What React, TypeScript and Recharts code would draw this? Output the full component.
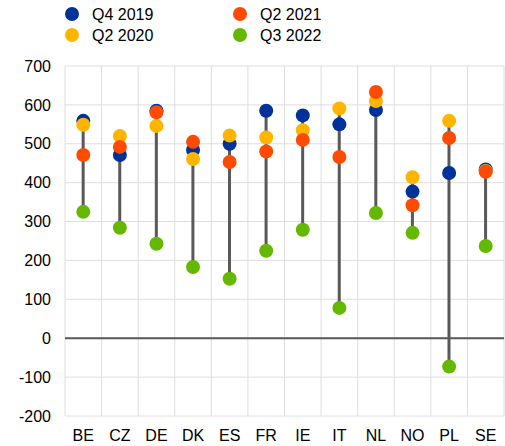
import React from 'react'
import {
  ComposedChart, Bar, Line, XAxis, YAxis, CartesianGrid, ReferenceLine,
} from 'recharts'

const countries = ['BE', 'CZ', 'DE', 'DK', 'ES', 'FR', 'IE', 'IT', 'NL', 'NO', 'PL', 'SE']
const q4_2019 = [559, 471, 585, 484, 500, 585, 573, 550, 587, 377, 425, 434]
const q2_2020 = [549, 520, 546, 461, 521, 516, 535, 591, 610, 414, 559, 430]
const q2_2021 = [471, 492, 581, 505, 453, 480, 510, 466, 633, 342, 515, 428]
const q3_2022 = [325, 284, 243, 183, 153, 225, 279, 78, 322, 271, -73, 237]
const yTicks = [-200, -100, 0, 100, 200, 300, 400, 500, 600, 700]

const series = [
  { key: 'q4_2019', name: 'Q4 2019', color: '#003299' },
  { key: 'q2_2020', name: 'Q2 2020', color: '#FFB400' },
  { key: 'q2_2021', name: 'Q2 2021', color: '#FF4B00' },
  { key: 'q3_2022', name: 'Q3 2022', color: '#65B800' },
]

const data = countries.map((c, i) => {
  const vals = [q4_2019[i], q2_2020[i], q2_2021[i], q3_2022[i]]
  return {
    country: c,
    q4_2019: q4_2019[i],
    q2_2020: q2_2020[i],
    q2_2021: q2_2021[i],
    q3_2022: q3_2022[i],
    range: [Math.min(...vals), Math.max(...vals)],
  }
})

const font = '"Liberation Sans", Arial, sans-serif'

const Stem = (props: any) => {
  const { x, y, width, height } = props
  return <rect x={x + width / 2 - 1.5} y={y} width={3} height={height} fill="#595959" />
}

const legendPos = [
  { x: 72, y: 14 }, { x: 72, y: 35 }, { x: 240, y: 14 }, { x: 240, y: 35 },
]

export default function App() {
  return (
    <div style={{ position: 'absolute', left: 0, top: 0, width: 505, height: 446, fontFamily: font }}>
      <svg style={{ position: 'absolute', left: 0, top: 0 }} width={505} height={60}>
        {series.map((s, i) => (
          <g key={s.key}>
            <circle cx={legendPos[i].x} cy={legendPos[i].y} r={7} fill={s.color} />
            <text x={legendPos[i].x + 20} y={legendPos[i].y + 6} fontSize={16} fill="#000" fontFamily={font}>
              {s.name}
            </text>
          </g>
        ))}
      </svg>
      <div style={{ position: 'absolute', left: 0, top: 0 }}>
        <ComposedChart
          width={505}
          height={446}
          data={data}
          margin={{ top: 66, right: 1, left: 0, bottom: 0 }}
        >
          <CartesianGrid
            stroke="#dedede"
            strokeWidth={1}
            verticalCoordinatesGenerator={({ offset }: any) =>
              countries.map((_, i) => offset.left + (i * offset.width) / countries.length).concat([offset.left + offset.width])
            }
          />
          <XAxis
            dataKey="country"
            axisLine={false}
            tickLine={false}
            height={30}
            tick={{ fill: '#000', fontSize: 16, fontFamily: font }}
            tickMargin={8}
            interval={0}
          />
          <YAxis
            domain={[-200, 700]}
            ticks={yTicks}
            width={65}
            axisLine={false}
            tickLine={false}
            tickMargin={8}
            tick={{ fill: '#000', fontSize: 16, fontFamily: font }}
            interval={0}
          />
          <ReferenceLine y={0} stroke="#595959" strokeWidth={2} />
          <Bar dataKey="range" shape={<Stem />} isAnimationActive={false} />
          {series.map((s) => (
            <Line
              key={s.key}
              dataKey={s.key}
              name={s.name}
              stroke="none"
              isAnimationActive={false}
              dot={{ r: 7, fill: s.color, stroke: 'none' }}
              activeDot={false}
            />
          ))}
        </ComposedChart>
      </div>
    </div>
  )
}
